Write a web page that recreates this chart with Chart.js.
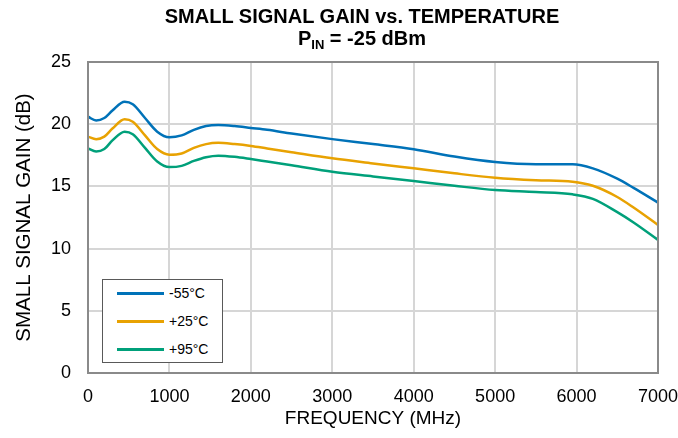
<!DOCTYPE html>
<html>
<head>
<meta charset="utf-8">
<script src="https://cdn.jsdelivr.net/npm/chart.js@4.4.1/dist/chart.umd.min.js"></script>
<style>
  html, body { margin: 0; padding: 0; background: #fff; }
  #wrap { position: relative; width: 678px; height: 438px; font-family: "Liberation Sans", Arial, sans-serif; color: #000; }
  #title { position: absolute; left: 62px; width: 600px; top: 5px; text-align: center; font-weight: bold; font-size: 20px; line-height: 22px; }
  #title .sub { font-size: 13px; position: relative; top: 4px; }
  #legend { position: absolute; left: 102px; top: 279px; width: 119px; height: 82px; border: 1.5px solid #595959; background: #fff; }
  #legend .row { position: absolute; left: 14px; height: 20px; display: flex; align-items: center; font-size: 14px; }
  #legend .swatch { width: 47px; height: 3px; margin-right: 5px; }
</style>
</head>
<body>
<div id="wrap">
  <canvas id="gainChart" width="678" height="438"></canvas>
  <div id="title">SMALL SIGNAL GAIN vs. TEMPERATURE<br>P<span class="sub">IN</span> = -25 dBm</div>
  <div id="legend"></div>
</div>
<script>
// Frequências medidas (MHz)
const freqMHz = [0, 100, 200, 300, 450, 550, 700, 850, 1000, 1150, 1300, 1450, 1600, 1800, 2000, 2200, 2500, 3000, 3500, 4000, 4500, 5000, 5500, 5950, 6200, 6500, 6700, 7000];

// Ganho de pequeno sinal (dB) por temperatura
const gainM55 = [20.6, 20.3, 20.5, 21.1, 21.8, 21.6, 20.5, 19.4, 18.95, 19.1, 19.55, 19.85, 19.93, 19.85, 19.7, 19.55, 19.25, 18.8, 18.4, 17.98, 17.4, 16.96, 16.78, 16.78, 16.45, 15.62, 14.88, 13.7];
const gainP25 = [19.0, 18.8, 19.0, 19.65, 20.4, 20.2, 19.1, 18.0, 17.55, 17.65, 18.1, 18.4, 18.5, 18.4, 18.25, 18.05, 17.75, 17.26, 16.85, 16.45, 16.05, 15.7, 15.5, 15.38, 15.05, 14.15, 13.3, 11.9];
const gainP95 = [18.05, 17.8, 18.0, 18.7, 19.4, 19.2, 18.1, 17.0, 16.55, 16.65, 17.05, 17.35, 17.47, 17.38, 17.2, 17.0, 16.7, 16.18, 15.8, 15.43, 15.05, 14.71, 14.55, 14.36, 14.0, 12.93, 12.1, 10.7];

const seriesLabels = ['-55°C', '+25°C', '+95°C'];
const seriesColors = ['#0072B8', '#E8A202', '#00A07A'];

const toPoints = (vals) => freqMHz.map((f, i) => ({ x: f, y: vals[i] }));

// Moldura cinza em volta da área do gráfico
const framePlugin = {
    id: 'frame',
    afterDatasetsDraw(chart) {
        const { ctx, chartArea: a } = chart;
        ctx.save();
        ctx.strokeStyle = '#8a8a8a';
        ctx.lineWidth = 2;
        ctx.strokeRect(a.left, a.top, a.right - a.left, a.bottom - a.top);
        ctx.restore();
    }
};

const axisFont = { family: '"Liberation Sans", Arial, sans-serif', size: 18 };

const chart = new Chart(document.getElementById('gainChart').getContext('2d'), {
    type: 'line',
    data: {
        datasets: [
            { label: seriesLabels[0], data: toPoints(gainM55), borderColor: seriesColors[0] },
            { label: seriesLabels[1], data: toPoints(gainP25), borderColor: seriesColors[1] },
            { label: seriesLabels[2], data: toPoints(gainP95), borderColor: seriesColors[2] }
        ]
    },
    options: {
        responsive: false,
        animation: false,
        devicePixelRatio: 1,
        layout: { padding: { top: 62, right: 20, left: 0, bottom: 0 } },
        elements: {
            point: { radius: 0 },
            line: { borderWidth: 2.5, cubicInterpolationMode: 'monotone', fill: false }
        },
        scales: {
            x: {
                type: 'linear',
                min: 0,
                max: 7000,
                ticks: {
                    stepSize: 1000,
                    color: '#000',
                    font: axisFont,
                    padding: 13,
                    maxRotation: 0,
                    callback: (v) => String(v) // sem separador de milhar
                },
                grid: { color: '#d6d6d6', lineWidth: 2, drawTicks: false },
                border: { color: '#8a8a8a', width: 2 },
                title: { display: true, text: 'FREQUENCY (MHz)', color: '#000', font: { family: axisFont.family, size: 19 }, padding: { top: 0, bottom: 8 } },
                afterFit(scale) {
                    scale.height = 65;
                    // o rótulo 7000 pode sair da área; margem fixa pelo layout
                    scale.paddingLeft = 0;
                    scale.paddingRight = 0;
                }
            },
            y: {
                min: 0,
                max: 25,
                ticks: { stepSize: 5, color: '#000', font: axisFont, padding: 17 },
                grid: { color: '#d6d6d6', lineWidth: 2, drawTicks: false },
                border: { color: '#8a8a8a', width: 2 },
                title: { display: true, text: 'SMALL SIGNAL GAIN (dB)', color: '#000', font: { family: axisFont.family, size: 20.5 }, padding: { top: 12, bottom: 0 } },
                afterFit(scale) { scale.width = 88; }
            }
        },
        plugins: {
            legend: { display: false },
            tooltip: { enabled: false }
        }
    },
    plugins: [framePlugin]
});

// Legenda com caixa, montada a partir dos datasets
const legendEl = document.getElementById('legend');
chart.data.datasets.forEach((ds, i) => {
    const row = document.createElement('div');
    row.className = 'row';
    row.style.top = (3 + i * 28) + 'px';
    const sw = document.createElement('span');
    sw.className = 'swatch';
    sw.style.background = ds.borderColor;
    const txt = document.createElement('span');
    txt.textContent = ds.label;
    row.appendChild(sw);
    row.appendChild(txt);
    legendEl.appendChild(row);
});
</script>
</body>
</html>
